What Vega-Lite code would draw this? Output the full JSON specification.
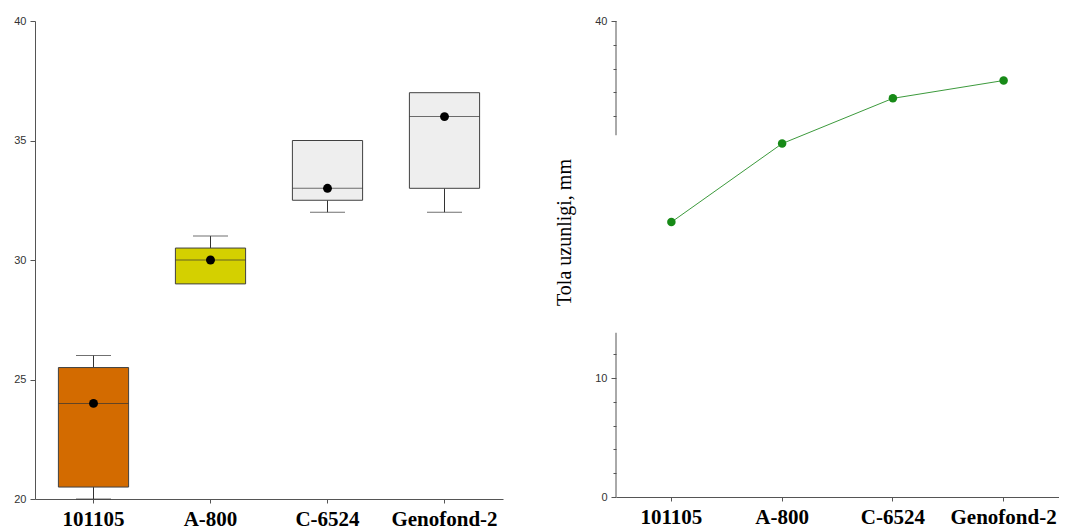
{
  "$schema": "https://vega.github.io/schema/vega-lite/v6.json",
  "padding": {"left": 13, "top": 15, "right": 0, "bottom": 0},
  "background": "white",
  "spacing": 51,
  "config": {
    "view": {"stroke": null},
    "axis": {"grid": false, "domainColor": "#555555", "tickColor": "#555555", "labelFont": "Liberation Sans", "labelFontSize": 11, "labelColor": "#333333"}
  },
  "datasets": {
    "box": [
      {"variety": "101105", "min": 20, "q1": 20.5, "median": 24, "q3": 25.5, "max": 26, "mean": 24},
      {"variety": "A-800", "min": 29, "q1": 29, "median": 30, "q3": 30.5, "max": 31, "mean": 30},
      {"variety": "C-6524", "min": 32, "q1": 32.5, "median": 33, "q3": 35, "max": 35, "mean": 33},
      {"variety": "Genofond-2", "min": 32, "q1": 33, "median": 36, "q3": 37, "max": 37, "mean": 36}
    ],
    "line": [
      {"variety": "101105", "length": 23.1},
      {"variety": "A-800", "length": 29.7},
      {"variety": "C-6524", "length": 33.5},
      {"variety": "Genofond-2", "length": 35.0}
    ],
    "axisline": [
      {"y0": 0, "y1": 13.8},
      {"y0": 30.4, "y1": 40}
    ]
  },
  "hconcat": [
    {
      "width": 468,
      "height": 478,
      "data": {"name": "box"},
      "encoding": {
        "x": {
          "field": "variety", "type": "nominal", "title": null,
          "scale": {"type": "band", "domain": ["101105", "A-800", "C-6524", "Genofond-2"], "paddingInner": 0, "paddingOuter": 0},
          "axis": {"labelAngle": 0, "labelFont": "Liberation Serif", "labelFontWeight": "bold", "labelFontSize": 21, "labelColor": "black", "tickSize": 4, "labelPadding": 5}
        }
      },
      "layer": [
        {
          "mark": {"type": "rule", "color": "#333333"},
          "encoding": {
            "y": {"field": "min", "type": "quantitative", "title": null, "scale": {"domain": [20, 40], "nice": false, "zero": false},
                  "axis": {"values": [20, 25, 30, 35, 40], "tickSize": 5, "labelPadding": 4}},
            "y2": {"field": "q1"}
          }
        },
        {
          "mark": {"type": "rule", "color": "#333333"},
          "encoding": {
            "y": {"field": "q3", "type": "quantitative", "title": null},
            "y2": {"field": "max"}
          }
        },
        {
          "transform": [{"filter": "datum.min < datum.q1"}],
          "mark": {"type": "tick", "size": 35, "thickness": 1, "color": "#333333"},
          "encoding": {"y": {"field": "min", "type": "quantitative", "title": null}}
        },
        {
          "transform": [{"filter": "datum.max > datum.q3"}],
          "mark": {"type": "tick", "size": 35, "thickness": 1, "color": "#333333"},
          "encoding": {"y": {"field": "max", "type": "quantitative", "title": null}}
        },
        {
          "mark": {"type": "bar", "width": {"band": 0.6}, "stroke": "#404040", "strokeWidth": 1, "opacity": 1},
          "encoding": {
            "y": {"field": "q1", "type": "quantitative", "title": null},
            "y2": {"field": "q3"},
            "color": {"field": "variety", "type": "nominal", "legend": null,
                      "scale": {"domain": ["101105", "A-800", "C-6524", "Genofond-2"], "range": ["#D36B00", "#D4D000", "#EEEEEE", "#EEEEEE"]}}
          }
        },
        {
          "mark": {"type": "tick", "size": 70, "thickness": 1, "color": "#333333"},
          "encoding": {"y": {"field": "median", "type": "quantitative", "title": null}}
        },
        {
          "mark": {"type": "point", "filled": true, "size": 80, "color": "black", "opacity": 1},
          "encoding": {"y": {"field": "mean", "type": "quantitative", "title": null}}
        }
      ]
    },
    {
      "width": 443,
      "height": 476,
      "layer": [
        {
          "data": {"name": "line"},
          "mark": {"type": "line", "color": "#3C9A3C", "strokeWidth": 1},
          "encoding": {
            "x": {
              "field": "variety", "type": "nominal", "title": null, "bandPosition": 0.5,
              "scale": {"type": "band", "domain": ["101105", "A-800", "C-6524", "Genofond-2"], "paddingInner": 0, "paddingOuter": 0},
              "axis": {"labelAngle": 0, "labelFont": "Liberation Serif", "labelFontWeight": "bold", "labelFontSize": 21, "labelColor": "black", "tickSize": 4, "labelPadding": 5}
            },
            "y": {
              "field": "length", "type": "quantitative", "title": "Tola uzunligi, mm",
              "scale": {"domain": [0, 40], "nice": false},
              "axis": {
                "values": [0, 2, 4, 6, 8, 10, 12, 32, 34, 36, 38, 40],
                "labelExpr": "indexof([0, 10, 40], datum.value) >= 0 ? datum.label : ''",
                "tickSize": {"condition": {"test": "indexof([0, 10, 40], datum.value) >= 0", "value": 5}, "value": 3},
                "labelPadding": 4,
                "domain": false,
                "titleFont": "Liberation Serif", "titleFontSize": 20, "titleFontWeight": "normal", "titleColor": "black",
                "titlePadding": 20, "titleY": 211
              }
            }
          }
        },
        {
          "data": {"name": "line"},
          "mark": {"type": "point", "filled": true, "size": 72, "color": "#178A17", "opacity": 1},
          "encoding": {
            "x": {"field": "variety", "type": "nominal", "bandPosition": 0.5},
            "y": {"field": "length", "type": "quantitative"}
          }
        },
        {
          "data": {"name": "axisline"},
          "mark": {"type": "rule", "color": "#555555"},
          "encoding": {
            "x": {"datum": "101105", "type": "nominal", "bandPosition": 0},
            "y": {"field": "y0", "type": "quantitative"},
            "y2": {"field": "y1"}
          }
        }
      ]
    }
  ]
}
